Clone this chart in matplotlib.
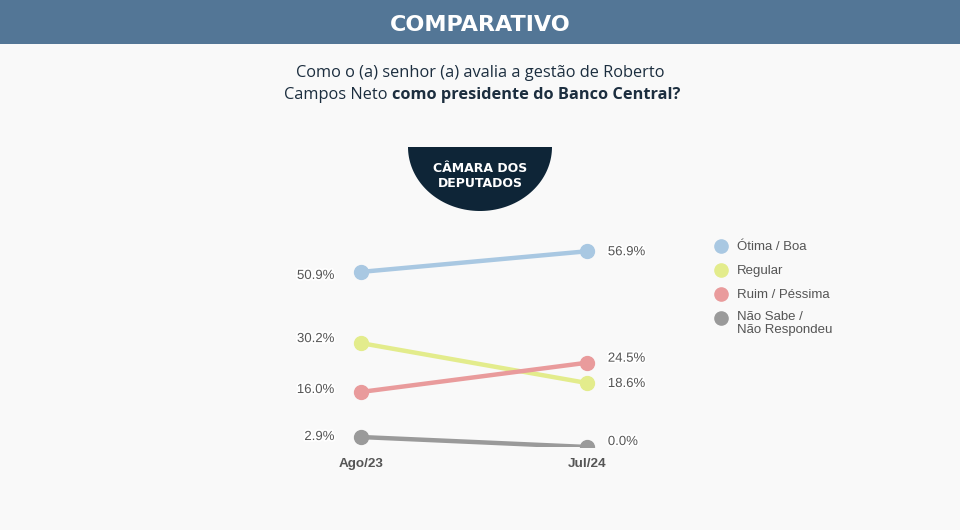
import matplotlib.pyplot as plt
import matplotlib.patheffects as pe
import numpy as np
from matplotlib.patches import Rectangle, Polygon

# data
periods = ['Ago/23', 'Jul/24']
series = ['Ótima / Boa', 'Regular', 'Ruim / Péssima', 'Não Sabe /\nNão Respondeu']
otima = [50.9, 56.9]
regular = [30.2, 18.6]
ruim = [16.0, 24.5]
nao_sabe = [2.9, 0.0]
colors = ['#a9c8e2', '#e3ec8c', '#e99b9c', '#9a9a9a']

W, H = 960, 530
fig = plt.figure(figsize=(9.6, 5.3), dpi=100, facecolor='#f9f9f9')

# background decoration in pixel coords
bg = fig.add_axes([0, 0, 1, 1])
bg.set_xlim(0, W)
bg.set_ylim(H, 0)
bg.axis('off')
bg.add_patch(Rectangle((0, 0), W, 44, color='#537696', lw=0))
bg.text(480, 25, 'COMPARATIVO', color='white', fontsize=16, fontweight='bold',
        family='DejaVu Sans', ha='center', va='center')

sub_col = '#1c2e3f'
bg.text(480, 73, 'Como o (a) senhor (a) avalia a gestão de Roberto', color=sub_col,
        fontsize=11.8, family='Open Sans', ha='center', va='center')
bg.text(388, 95, 'Campos Neto', color=sub_col, fontsize=11.8, family='Open Sans',
        ha='right', va='center')
bg.text(392, 95, 'como presidente do Banco Central?', color=sub_col, fontsize=11.8,
        family='Open Sans', fontweight='bold', ha='left', va='center')

# half-ellipse badge
t = np.linspace(0, np.pi, 80)
pts = np.column_stack([480 + 72 * np.cos(t), 147 + 64 * np.sin(t)])
bg.add_patch(Polygon(pts, closed=True, color='#0e2537', lw=0))
bg.text(480, 176, 'CÂMARA DOS\nDEPUTADOS', color='white', fontsize=9, fontweight='bold',
        family='DejaVu Sans', ha='center', va='center', linespacing=1.2)

# main plot axes: x index 0..1 at px 361..587, y 0..60 with 3.44 px/unit from 447
px_per = 3.44
x0, x1 = 361, 587
xpad = 0.1
ytop = 60
left = (x0 - xpad * (x1 - x0)) / W
width = (1 + 2 * xpad) * (x1 - x0) / W
bottom = (H - 447) / H
height = ytop * px_per / H
ax = fig.add_axes([left, bottom, width, height])
ax.set_xlim(-xpad, 1 + xpad)
ax.set_ylim(0, ytop)
ax.axis('off')

halo = [pe.withStroke(linewidth=2.5, foreground='white')]
xs = np.arange(len(periods))
# label nudges in points (order: otima, regular, ruim, nao_sabe)
left_dy = [-2.9, 2.9, 1.4, 0]
right_dy = [-0.7, -0.7, 2.9, 3.6]
for vals, c, ldy, rdy in zip([otima, regular, ruim, nao_sabe], colors, left_dy, right_dy):
    ax.plot(xs, vals, color=c, lw=3.2, marker='o', ms=10, solid_capstyle='round')
    ax.annotate(f'{vals[0]:.1f}%', (xs[0], vals[0]), xytext=(-19, ldy), textcoords='offset points',
                ha='right', va='center', fontsize=9.5, color='#555555',
                family='Liberation Sans', path_effects=halo, annotation_clip=False)
    ax.annotate(f'{vals[1]:.1f}%', (xs[1], vals[1]), xytext=(15, rdy), textcoords='offset points',
                ha='left', va='center', fontsize=9.5, color='#555555',
                family='Liberation Sans', path_effects=halo, annotation_clip=False)

for i, p in enumerate(periods):
    ax.annotate(p, (xs[i], 0), xytext=(0, -12.5), textcoords='offset points', ha='center',
                va='center', fontsize=9.7, fontweight='bold', color='#555555',
                family='Liberation Sans', annotation_clip=False)

# legend
ly = [246, 270, 294, 318]
for y, lab, c in zip(ly, series, colors):
    bg.plot(721, y, 'o', ms=9.5, color=c)
    if '\n' in lab:
        bg.text(737, y - 6.5, lab, fontsize=9.5, color='#555555', family='Liberation Sans',
                ha='left', va='top', linespacing=1.0)
    else:
        bg.text(737, y + 1, lab, fontsize=9.5, color='#555555', family='Liberation Sans',
                ha='left', va='center')

fig.savefig('out.png', dpi=100, facecolor=fig.get_facecolor())
